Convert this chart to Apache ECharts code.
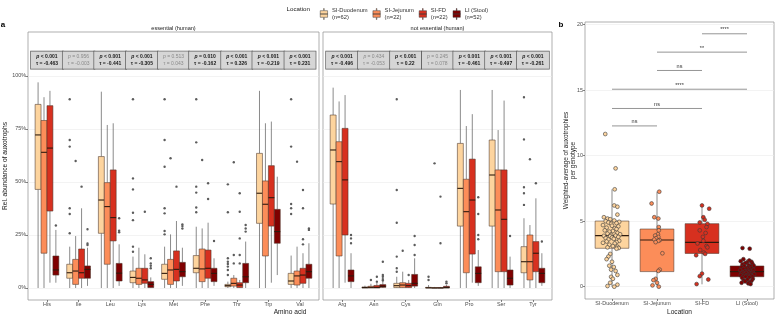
<!DOCTYPE html>
<html><head><meta charset="utf-8">
<script src="https://cdn.jsdelivr.net/npm/echarts@6/dist/echarts.min.js"></script>
<style>html,body{margin:0;padding:0;background:#fff}#c{width:776px;height:316px}</style>
</head><body><div id="c"></div>
<script>
// ---------------- DATA ----------------
const essentialAA = ['His','Ile','Leu','Lys','Met','Phe','Thr','Trp','Val'];
const nonEssentialAA = ['Arg','Asn','Cys','Gln','Pro','Ser','Tyr'];
const locations = ['SI-Duodenum','SI-Jejunum','SI-FD','LI (Stool)'];
const locationN = [62,22,22,52];
const pctTicks = [0,25,50,75,100];
const bTicks = [0,5,10,15,20];

// box stats: [lower whisker, Q1, median, Q3, upper whisker] (%)
const essDuodenum = [[0,46.5,72.2,86.6,97],[0,4.6,7.2,11.2,19.5],[0,25.8,41.5,62,92.6],[0,2.5,5,8,14.8],[0,4.1,6.9,11.2,19.5],[0,7.2,9.3,15.3,28.9],[0,0.6,1.1,1.7,3],[0,30.5,44.7,63.5,93],[0,1.7,3.3,6.9,15.3]];
const essJejunum  = [[0,16.4,64,79,90],[0,1.7,8,13.5,24.5],[0,11.2,38.4,49.7,76.9],[0,1.7,4.6,9.3,19],[0,1.7,8.5,13.5,25.3],[0,3,9,18.4,28.1],[0,0.9,2.2,4.6,6.1],[0,15.1,39.5,50.5,77.7],[0,1.4,5.7,8,19.5]];
const essFD       = [[2.5,36.3,66,86,93],[0,4.6,7.2,18.4,37.6],[0,22.2,33.2,55.7,77.7],[0,2.2,3.8,9.3,15.9],[0,3.3,8.8,17.5,31.6],[0,4.6,9.3,17.9,30.8],[0,0.2,1.4,2.5,3.8],[2.5,29.2,42.6,57.7,78.5],[0,2.2,6.1,9.3,16.4]];
const essStool    = [[2.5,6.1,8.5,15.1,27.4],[1,4.6,8.8,10.4,19],[1,3.3,7,11.6,20.6],[0,0.2,1.7,3,5],[1,5.3,7.7,12.1,19],[1,3,6.9,9.3,14],[0,2.5,5.3,11.6,21.9],[6.1,21.1,26.6,37.1,52.5],[0,4.6,7.7,11.2,21.1]];
const essDuodenumOut = [[],[25.8,34.9,37.6,66.7,69.8,89],[],[17.1,19.5,32,35.5,46.5,51.7,89],[25.3,26.9,35.2,37.6,57.2,69.8,89],[35.7,38,45,47.8,68.7,89],[6.1,8.5,10.1,11.3,12.4,14,35.7,48.9],[],[34.9,37.6,39.6,66.7,89]];
const essJejunumOut  = [[],[59.9],[],[],[61.2],[60.4],[11.6,15.6,59.3],[],[59.6]];
const essFDOut       = [[],[47.8],[],[36],[47.8],[42,49.4],[11.6,15.6,23.4,36,44.7],[],[20.6,23,37.6,46.2]];
const essStoolOut    = [[29.5],[20.3,21,27.7],[26.3,27,32.9],[9.3,10.5,11.6,14],[28.1,29.2,30],[22.2],[26.6,28.1,29.7],[],[27.4,28.1]];

const nonDuodenum = [[0,39.6,65.1,81.6,94.5],[0,0,0.2,0.5,1.1],[0,0.2,1.1,2.2,5.3],[0,0,0.1,0.3,1.4],[0,29.2,47,68.2,93.4],[0,29.2,53.3,69.8,93.4],[0,7.2,12.4,19.5,32.9]];
const nonJejunum  = [[0,15.1,59.6,69,88],[0,0,0.3,0.8,2],[0,0.2,1.4,2.5,7.7],[0,0,0,0.2,0.5],[0,7.2,36,51.3,76.4],[0,7.7,36.8,55.7,74.5],[0,3.8,12.4,25,29.7]];
const nonFD       = [[2.5,25,51,75.3,91],[0,0,0.3,1.2,2.5],[0,0.2,1.1,2.2,3.8],[0,0,0,0.2,0.5],[2.5,16,41.5,60.8,82],[0,7.7,32.4,55.7,88.4],[0,7.7,16.4,21.9,42.3]];
const nonStool    = [[0,3,5.7,8.5,16.4],[0,0.3,0.8,1.6,3],[0,0.9,2.2,6.4,14],[0,0,0.2,0.8,1.4],[1,2.5,6.9,10,17.9],[0,1.4,4.6,8.5,14.8],[1,2.5,6.9,9.3,16.4]];
const nonDuodenumOut = [[],[],[7.7,9.3,14.8,30.8,46.2,89],[3.8,5.3],[],[],[39.2,44.7,47.5,70.1,90]];
const nonJejunumOut  = [[],[3.8],[17.6],[58.8],[],[],[60.7]];
const nonFDOut       = [[],[3,5.3],[6.1],[21.1,43.1],[],[],[49.4]];
const nonStoolOut    = [[21.1,23.4,25],[3.5,4.2,5.3,6.1,12.4],[15.6,20.3,24.5],[2.2,3],[23,25,34.9,42.8],[24.5],[21.9]];

// correlation stats
const essP   = ['< 0.001','= 0.956','< 0.001','< 0.001','= 0.513','= 0.010','< 0.001','< 0.001','< 0.001'];
const essTau = ['-0.463','-0.003','-0.441','-0.305','0.043','-0.162','0.326','-0.219','0.231'];
const nonP   = ['< 0.001','= 0.434','< 0.001','= 0.245','< 0.001','< 0.001','< 0.001'];
const nonTau = ['-0.496','-0.053','0.22','0.078','-0.461','-0.497','-0.261'];

// panel b: weighted average of auxotrophies per genotype
const bBoxes = [[0,2.93,3.9,5.01,7.43],[0,1.15,3.56,4.4,7.25],[0.18,2.54,3.38,4.81,6.16],[0.2,0.76,1.15,1.58,2.1]];
const duoVals = [11.65,9.03,7.43,6.2,6.1,5.5,5.3,5.2,5.15,5.05,5.0,4.95,4.9,4.85,4.8,4.7,4.65,4.6,4.5,4.45,4.4,4.3,4.25,4.2,4.1,4.05,4.0,3.95,3.9,3.88,3.85,3.8,3.75,3.7,3.65,3.6,3.5,3.45,3.4,3.35,3.3,3.2,3.1,3.05,3.0,2.95,2.9,2.5,2.3,2.1,1.9,1.6,1.5,1.3,1.2,0.9,0.75,0.6,0.3,0.15,0.05,0.0];
const jejVals = [7.25,6.35,5.3,5.2,4.55,4.3,4.0,3.9,3.8,3.7,3.6,3.55,3.5,3.4,2.55,1.3,1.2,0.6,0.5,0.3,0.1,0.0];
const fdVals  = [6.2,5.95,5.3,5.1,4.9,4.8,4.55,4.3,4.1,3.8,3.5,3.3,3.1,3.0,2.8,2.6,2.5,2.4,1.0,0.8,0.55,0.2];
const liVals  = [2.95,2.9,2.1,2.0,1.95,1.9,1.85,1.8,1.75,1.7,1.65,1.6,1.58,1.55,1.5,1.45,1.4,1.38,1.35,1.3,1.28,1.25,1.2,1.18,1.15,1.12,1.1,1.08,1.05,1.02,1.0,0.98,0.95,0.92,0.9,0.88,0.85,0.82,0.8,0.78,0.76,0.72,0.68,0.6,0.55,0.5,0.45,0.4,0.35,0.3,0.25,0.2];
const duoJit = [-0.15,0.08,0.06,0.05,0.12,0.12,-0.18,-0.10,-0.04,0.05,-0.14,0.16,-0.08,0.10,-0.02,-0.20,0.00,0.14,-0.12,0.06,0.10,-0.16,0.02,-0.06,0.12,-0.10,0.18,-0.02,0.08,-0.18,-0.04,0.14,0.00,-0.14,0.04,-0.08,0.16,-0.12,0.10,-0.20,0.06,-0.06,0.02,0.12,-0.10,0.15,0.10,-0.04,-0.08,-0.12,0.00,-0.06,0.04,-0.02,0.08,0.12,-0.02,0.02,-0.04,0.12,-0.10,0.05];
const jejJit = [0.05,-0.12,-0.06,0.03,0.04,0.04,0.02,-0.04,0.03,-0.02,-0.06,0.06,0.03,-0.03,0.12,0.06,0.03,-0.03,-0.08,0.0,-0.1,0.04];
const fdJit  = [0.0,0.16,0.03,0.06,-0.05,0.12,0.1,-0.05,0.08,0.02,0.03,-0.1,0.1,0.12,-0.04,0.04,0.07,-0.13,0.0,-0.05,0.14,-0.12];
const liJit  = [-0.1,0.06,-0.08,0.05,-0.14,0.1,0.0,-0.04,0.12,-0.1,0.04,0.15,-0.06,0.08,-0.12,0.02,0.1,-0.02,-0.08,0.06,0.14,-0.15,0.0,0.08,-0.05,0.12,-0.1,0.04,-0.02,0.1,-0.12,0.06,0.16,-0.06,0.02,-0.14,0.09,0.0,-0.08,0.12,-0.03,0.05,-0.11,0.13,0.01,-0.07,0.1,-0.04,0.06,-0.12,0.03,0.08];
// significance: [group A, group B, height, label]
const sigPairs = [[0,1,12.27,'ns'],[0,2,13.6,'ns'],[0,3,15.07,'****'],[1,2,16.5,'ns'],[1,3,17.9,'**'],[2,3,19.3,'****']];

// ---------------- STYLE ----------------
const FONT = 'Liberation Sans';
const colors = ['#fdd49e','#fc8d59','#d7301f','#7f0000'];
const dodge = [-0.28125,-0.09375,0.09375,0.28125];
const boxW = 0.1875;
const LABEL_Y = 107.5;
const seriesNames = locations.map((l,k) => l + '\n(n=' + locationN[k] + ')');

function boxplotRender(outliers, offset, width) {
  return function (params, api) {
    const x = api.value(0) + offset;
    const pLo = api.coord([x, api.value(1)]);
    const pQ1 = api.coord([x, api.value(2)]);
    const pMd = api.coord([x, api.value(3)]);
    const pQ3 = api.coord([x, api.value(4)]);
    const pHi = api.coord([x, api.value(5)]);
    const xl = api.coord([x - width / 2, 0])[0];
    const xr = api.coord([x + width / 2, 0])[0];
    const ch = [];
    (outliers ? outliers[params.dataIndex] : []).forEach(v => {
      const p = api.coord([x, v]);
      ch.push({type:'circle', shape:{cx:p[0], cy:p[1], r:1.2}, style:{fill:'#5c5c5c'}});
    });
    ch.push({type:'line', shape:{x1:pLo[0],y1:pLo[1],x2:pQ1[0],y2:pQ1[1]}, style:{stroke:'#3d3d3d', lineWidth:0.6}});
    ch.push({type:'line', shape:{x1:pQ3[0],y1:pQ3[1],x2:pHi[0],y2:pHi[1]}, style:{stroke:'#3d3d3d', lineWidth:0.6}});
    ch.push({type:'rect', shape:{x:xl, y:pQ3[1], width:xr-xl, height:Math.max(pQ1[1]-pQ3[1],0.3)}, style:{fill:api.visual('color'), stroke:'#4a3428', lineWidth:0.55}});
    ch.push({type:'line', shape:{x1:xl,y1:pMd[1],x2:xr,y2:pMd[1]}, style:{stroke:'#2e1a0e', lineWidth:1.1}});
    return {type:'group', children: ch};
  };
}
function statsRender(pArr, tauArr) {
  return function (params, api) {
    const i = params.dataIndex;
    const p = api.coord([api.value(0), LABEL_Y]);
    const num = parseFloat(pArr[i].slice(2));
    const sig = pArr[i].charAt(0) === '<' || num < 0.05;
    const col = sig ? '#1a1a1a' : '#8a8a8a';
    const fw = sig ? 'bold' : 'normal';
    return {
      type:'text', x:p[0], y:p[1],
      style:{
        text:'{i|p} ' + pArr[i] + '\nτ = ' + tauArr[i],
        rich:{i:{fontStyle:'italic', fontWeight:fw, fill:col, fontSize:5, fontFamily:FONT, lineHeight:7.5}},
        fill:col, fontWeight:fw, fontSize:5, fontFamily:FONT, lineHeight:7.5,
        align:'center', verticalAlign:'middle',
        backgroundColor:'#d6d6d6', borderColor:'#5a5a5a', borderWidth:0.7, padding:[1.2,5]
      }
    };
  };
}

const series = [];
const essBoxes = [essDuodenum, essJejunum, essFD, essStool];
const essOut = [essDuodenumOut, essJejunumOut, essFDOut, essStoolOut];
const nonBoxes = [nonDuodenum, nonJejunum, nonFD, nonStool];
const nonOut = [nonDuodenumOut, nonJejunumOut, nonFDOut, nonStoolOut];
for (let k = 0; k < 4; k++) {
  series.push({type:'custom', name:seriesNames[k], xAxisIndex:0, yAxisIndex:0, itemStyle:{color:colors[k]},
    renderItem: boxplotRender(essOut[k], dodge[k], boxW), data: essBoxes[k].map((b,i) => [i].concat(b))});
  series.push({type:'custom', name:seriesNames[k], xAxisIndex:1, yAxisIndex:1, itemStyle:{color:colors[k]},
    renderItem: boxplotRender(nonOut[k], dodge[k], boxW), data: nonBoxes[k].map((b,i) => [i].concat(b))});
}
series.push({type:'custom', xAxisIndex:0, yAxisIndex:0, renderItem: statsRender(essP, essTau), data: essP.map((_,i)=>[i]), z:5});
series.push({type:'custom', xAxisIndex:1, yAxisIndex:1, renderItem: statsRender(nonP, nonTau), data: nonP.map((_,i)=>[i]), z:5});
// panel b boxes
series.push({type:'custom', xAxisIndex:2, yAxisIndex:2,
  renderItem: function (params, api) {
    const k = params.dataIndex;
    const fn = boxplotRender(null, 0, 0.75);
    const g = fn(params, api);
    g.children[2].style.fill = colors[k];
    return g;
  },
  data: bBoxes.map((b,i) => [i].concat(b))});
const bVals = [duoVals, jejVals, fdVals, liVals];
const bJit = [duoJit, jejJit, fdJit, liJit];
for (let k = 0; k < 4; k++) {
  series.push({type:'scatter', name:seriesNames[k], xAxisIndex:2, yAxisIndex:2, symbol:'circle', symbolSize:3.8,
    itemStyle:{color:colors[k], borderColor:'#3a3a3a', borderWidth:0.6, opacity:1},
    data: bVals[k].map((v,i) => [k + bJit[k][i % bJit[k].length], v]), z:4});
}
series.push({type:'custom', xAxisIndex:2, yAxisIndex:2, z:6,
  renderItem: function (params, api) {
    const a = api.coord([api.value(0), api.value(2)]);
    const b = api.coord([api.value(1), api.value(2)]);
    return {type:'group', children:[
      {type:'line', shape:{x1:a[0],y1:a[1],x2:b[0],y2:b[1]}, style:{stroke:'#4d4d4d', lineWidth:0.6}},
      {type:'text', x:(a[0]+b[0])/2, y:a[1]-1, style:{text:sigPairs[params.dataIndex][3], fontSize:5.5, fontFamily:FONT, fill:'#333', align:'center', verticalAlign:'bottom'}}
    ]};
  },
  data: sigPairs.map(s => [s[0], s[1], s[2]])});

const axisLabelBase = {fontSize:5.4, color:'#4d4d4d', fontFamily:FONT};
function catXAxis(gridIndex, cats, min, max) {
  const idx = cats.map((_,i)=>i);
  return {gridIndex, type:'value', min, max,
    axisLine:{show:false, onZero:false}, splitLine:{show:false},
    axisTick:{show:true, length:2, customValues:idx, lineStyle:{color:'#333', width:0.6}},
    axisLabel:Object.assign({}, axisLabelBase, {customValues:idx, margin:2, formatter:v => cats[Math.round(v)]})
  };
}
const gridBase = {show:true, borderColor:'#8c8c8c', borderWidth:0.7, backgroundColor:'transparent', containLabel:false, outerBoundsMode:'none'};

const option = {
  animation:false,
  backgroundColor:'#ffffff',
  textStyle:{fontFamily:FONT},
  color:colors,
  legend:{
    data:seriesNames, left:315, top:2, orient:'horizontal',
    itemWidth:8, itemHeight:11, itemGap:5,
    icon:'path://M4.6,0H5.4V3H10V12H5.4V15H4.6V12H0V3H4.6Z M0,7.3H10V7.7H0Z',
    itemStyle:{borderColor:'#3a3a3a', borderWidth:0.5},
    textStyle:{fontSize:5.8, lineHeight:7, color:'#333', fontFamily:FONT, padding:[0,0,0,-1]},
    selectedMode:false
  },
  grid:[
    Object.assign({left:28, top:32, width:291, height:268}, gridBase),
    Object.assign({left:323, top:32, width:229, height:268}, gridBase),
    Object.assign({left:585, top:22, width:189, height:277}, gridBase)
  ],
  xAxis:[
    catXAxis(0, essentialAA, -0.6, 8.6),
    catXAxis(1, nonEssentialAA, -0.6, 6.6),
    catXAxis(2, locations, -0.6, 3.6)
  ],
  yAxis:[
    {gridIndex:0, type:'value', min:-5.66, max:120.75,
      axisLine:{show:false, onZero:false},
      axisTick:{show:true, length:2.5, customValues:pctTicks, lineStyle:{color:'#333', width:0.6}},
      axisLabel:Object.assign({}, axisLabelBase, {customValues:pctTicks, margin:2, formatter:v => v + '%'}),
      splitLine:{show:true, lineStyle:{color:'#ebebeb', width:0.6}}},
    {gridIndex:1, type:'value', min:-5.66, max:120.75,
      axisLine:{show:false, onZero:false},
      axisTick:{show:false, customValues:pctTicks},
      axisLabel:{show:false, customValues:pctTicks},
      splitLine:{show:true, lineStyle:{color:'#ebebeb', width:0.6}}},
    {gridIndex:2, type:'value', min:-0.94, max:20.2,
      axisLine:{show:false, onZero:false},
      axisTick:{show:true, length:2, customValues:bTicks, lineStyle:{color:'#333', width:0.6}},
      axisLabel:Object.assign({}, axisLabelBase, {customValues:bTicks, margin:2}),
      splitLine:{show:true, lineStyle:{color:'#ebebeb', width:0.6}}}
  ],
  graphic:[
    {type:'text', x:3, y:25, style:{text:'a', fontSize:8, fontWeight:'bold', fontFamily:FONT, fill:'#000', align:'center', verticalAlign:'middle'}},
    {type:'text', x:561, y:25, style:{text:'b', fontSize:8, fontWeight:'bold', fontFamily:FONT, fill:'#000', align:'center', verticalAlign:'middle'}},
    {type:'text', x:310, y:9.5, style:{text:'Location', fontSize:6.2, fontFamily:FONT, fill:'#1a1a1a', align:'right', verticalAlign:'middle'}},
    {type:'text', x:173.5, y:28, style:{text:'essential (human)', fontSize:5.6, fontFamily:FONT, fill:'#1a1a1a', align:'center', verticalAlign:'middle'}},
    {type:'text', x:437.5, y:28, style:{text:'not essential (human)', fontSize:5.6, fontFamily:FONT, fill:'#1a1a1a', align:'center', verticalAlign:'middle'}},
    {type:'text', x:290, y:312, style:{text:'Amino acid', fontSize:6.6, fontFamily:FONT, fill:'#1a1a1a', align:'center', verticalAlign:'middle'}},
    {type:'text', x:679.5, y:312.5, style:{text:'Location', fontSize:6.6, fontFamily:FONT, fill:'#1a1a1a', align:'center', verticalAlign:'middle'}},
    {type:'text', x:5.5, y:166, rotation:Math.PI/2, style:{text:'Rel. abundance of auxotrophs', fontSize:6.6, fontFamily:FONT, fill:'#1a1a1a', align:'center', verticalAlign:'middle'}},
    {type:'text', x:569.5, y:160.5, rotation:Math.PI/2, style:{text:'Weighted-average of auxotrophies\nper genotype', fontSize:6.4, lineHeight:7.5, fontFamily:FONT, fill:'#1a1a1a', align:'center', verticalAlign:'middle'}}
  ],
  series
};
const chart = echarts.init(document.getElementById('c'), null, {renderer:'canvas'});
chart.setOption(option);
</script></body></html>
